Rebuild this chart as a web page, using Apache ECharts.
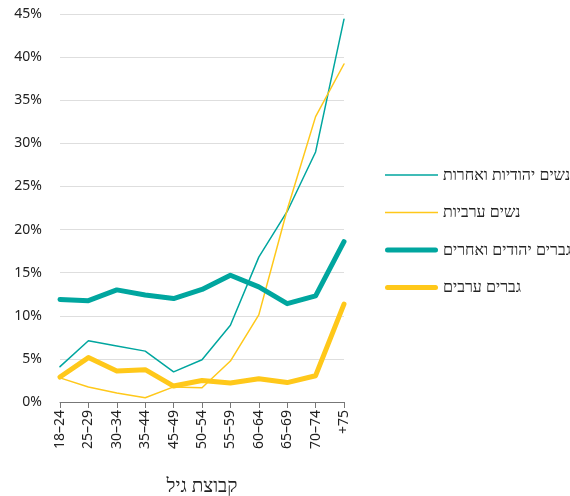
<!DOCTYPE html>
<html>
<head>
<meta charset="utf-8">
<script src="https://cdn.jsdelivr.net/npm/echarts@6/dist/echarts.min.js"></script>
<style>
  html, body { margin: 0; padding: 0; background: #fff; }
  #chart { width: 570px; height: 496px; }
</style>
</head>
<body>
<div id="chart"></div>
<script>
const ageGroups = ['18–24', '25–29', '30–34', '35–44', '45–49', '50–54', '55–59', '60–64', '65–69', '70–74', '+75'];
const jewishWomen = [4.1, 7.1, 6.5, 5.9, 3.5, 4.9, 8.9, 16.8, 22.1, 29.0, 44.4];
const arabWomen = [2.8, 1.75, 1.05, 0.5, 1.75, 1.65, 4.75, 10.1, 22.3, 33.1, 39.2];
const jewishMen = [11.9, 11.75, 13.0, 12.4, 12.0, 13.05, 14.7, 13.35, 11.4, 12.3, 18.6];
const arabMen = [2.9, 5.15, 3.6, 3.75, 1.85, 2.5, 2.2, 2.7, 2.25, 3.05, 11.35];
const seriesNames = ['נשים יהודיות ואחרות', 'נשים ערביות', 'גברים יהודים ואחרים', 'גברים ערבים'];

const teal = '#00a69f';
const yellow = '#ffc81a';
const font = 'Noto Sans';
// legend icons: flat bar for thin lines, rounded bar for thick lines
const thinIcon = 'path://M0,0h53v1.6h-53z';
const thickIcon = 'path://M2.5,0h48a2.5,2.5 0 0 1 0,5h-48a2.5,2.5 0 0 1 0,-5z';

const chart = echarts.init(document.getElementById('chart'));

function line(name, data, color, width) {
    return {
        name: name,
        type: 'line',
        data: data,
        symbol: 'none',
        lineStyle: { color: color, width: width, cap: 'round', join: 'round' },
        itemStyle: { color: color },
        emphasis: { disabled: true }
    };
}

chart.setOption({
    animation: false,
    textStyle: { fontFamily: font },
    grid: { left: 60, right: 226, top: 14, bottom: 94, outerBoundsMode: 'none' },
    legend: {
        orient: 'vertical',
        left: 380,
        top: 162,
        itemWidth: 53,
        itemHeight: 18,
        itemGap: 21.5,
        lineStyle: { width: 0 },
        textStyle: { fontFamily: font, fontSize: 16, color: '#222' },
        data: [
            { name: seriesNames[0], icon: thinIcon },
            { name: seriesNames[1], icon: thinIcon },
            { name: seriesNames[2], icon: thickIcon },
            { name: seriesNames[3], icon: thickIcon }
        ]
    },
    xAxis: {
        type: 'category',
        data: ageGroups,
        boundaryGap: false,
        name: 'קבוצת גיל',
        nameLocation: 'middle',
        nameGap: 75,
        nameTextStyle: { fontFamily: font, fontSize: 19, color: '#222' },
        axisLine: { lineStyle: { color: '#777', width: 1 } },
        axisTick: { alignWithLabel: true, length: 6, lineStyle: { color: '#777' } },
        axisLabel: { rotate: 90, fontSize: 14, color: '#222', margin: 8, interval: 0 }
    },
    yAxis: {
        type: 'value',
        min: 0,
        max: 45,
        interval: 5,
        axisLine: { show: false },
        axisTick: { show: false },
        axisLabel: { formatter: '{value}%', fontSize: 14, color: '#222', margin: 18 },
        splitLine: { lineStyle: { color: '#dedede', width: 1 } }
    },
    series: [
        line(seriesNames[0], jewishWomen, teal, 1.5),
        line(seriesNames[1], arabWomen, yellow, 1.5),
        line(seriesNames[2], jewishMen, teal, 5),
        line(seriesNames[3], arabMen, yellow, 5)
    ]
});
</script>
</body>
</html>
